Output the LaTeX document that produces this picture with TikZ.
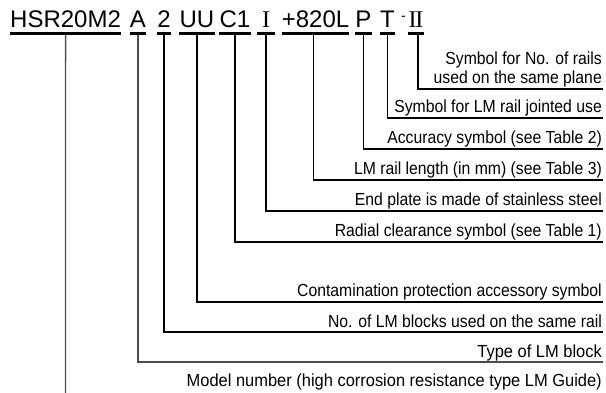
\documentclass[tikz,border=0pt]{standalone}
\usepackage{fontspec}
\setmainfont{Liberation Sans}
\newfontfamily\lblfont[FakeStretch=0.9]{Liberation Sans}
\newfontfamily\lblwfont[FakeStretch=0.94]{Liberation Sans}
\newfontfamily\romfont{Liberation Serif}
\begin{document}
\begin{tikzpicture}[x=1pt,y=-1pt,
  code/.style={inner sep=0pt,font=\fontsize{24}{28}\selectfont,anchor=base},
  lbl/.style={inner sep=0pt,font=\lblfont\fontsize{17.5}{20}\selectfont,anchor=base east},
  lblw/.style={lbl,font=\lblwfont\fontsize{17.5}{20}\selectfont},
  ul/.style={line width=3.3pt},
  conn/.style={line width=1.1pt},
  connd/.style={line width=1.4pt,black!70}]
\useasboundingbox (0,0) rectangle (606,393);
\coordinate (ul) at (0,33.3);
\coordinate (ulb) at (0,35);
% codes
\node[code,anchor=base west] (hsr) at (10,27.5) {HSR20M2};
\node[code] (a) at (138,27.5) {A};
\node[code] (n) at (164,27.5) {2};
\node[code] (uu) at (197,27.5) {UU};
\node[code] (c) at (235,27.5) {C1};
\node[code,inner xsep=4.5pt] (i) at (266,27.5) {\romfont I};
\node[code] (l) at (315.5,27.5) {+820L};
\node[code] (p) at (363.5,27.5) {P};
\node[code] (t) at (387.5,27.5) {T};
\node[inner sep=0pt,font=\fontsize{14}{16}\selectfont,anchor=base] (dash) at (403.5,20.5) {-};
\node[code] (ii) at (416,27.5) {\romfont I\kern-1.2pt I};
% underlines
\foreach \k in {hsr,a,n,uu,c,i,l,p,t,ii}
  \draw[ul] (\k.west |- ul) -- (\k.east |- ul);
% labels
\node[lbl] (lii) at (602,65) {Symbol for No. of rails};
\node[lbl] (liib) at (602,84) {used on the same plane};
\node[lbl] (lt) at (602,113) {Symbol for LM rail jointed use};
\node[lbl] (lp) at (602,144) {Accuracy symbol (see Table 2)};
\node[lbl] (ll) at (602,175) {LM rail length (in mm) (see Table 3)};
\node[lbl] (li) at (602,206) {End plate is made of stainless steel};
\node[lbl] (lc) at (602,237) {Radial clearance symbol (see Table 1)};
\node[lbl] (luu) at (602,297) {Contamination protection accessory symbol};
\node[lbl] (ln) at (602,327) {No. of LM blocks used on the same rail};
\node[lblw] (la) at (602,357) {Type of LM block};
\node[lblw] (lhsr) at (602,386) {Model number (high corrosion resistance type LM Guide)};
% line ends
\coordinate (eii) at (603,89);
\coordinate (et) at (603,118);
\coordinate (ep) at (603,149);
\coordinate (el) at (603,180);
\coordinate (ei) at (603,211);
\coordinate (ec) at (603,242);
\coordinate (euu) at (603,302);
\coordinate (en) at (603,332);
\coordinate (ea) at (603,362);
\coordinate (ehsr) at (65.5,393);
% connectors
\draw[conn] ([xshift=2pt]ii.south |- ulb) |- (eii);
\draw[conn] (t.south |- ulb) |- (et);
\draw[conn] (p.south |- ulb) |- (ep);
\draw[conn] ([xshift=-2pt]l.south |- ulb) |- (el);
\draw[conn] (i.south |- ulb) |- (ei);
\draw[conn] (c.south |- ulb) |- (ec);
\draw[conn] (uu.south |- ulb) |- (euu);
\draw[conn] (n.south |- ulb) |- (en);
\draw[connd] (a.south |- ulb) |- (ea);
\draw[connd] (hsr.south |- ulb) -- (ehsr);
\end{tikzpicture}
\end{document}
